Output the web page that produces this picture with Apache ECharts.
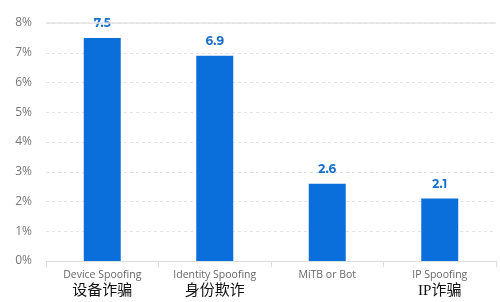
<!DOCTYPE html>
<html><head><meta charset="utf-8">
<script src="https://cdn.jsdelivr.net/npm/echarts@6/dist/echarts.min.js"></script>
<style>html,body{margin:0;padding:0;background:#fff}#c{width:500px;height:302px}</style>
</head><body><div id="c"></div>
<script>
const categoriesEn = ['Device Spoofing', 'Identity Spoofing', 'MiTB or Bot', 'IP Spoofing'];
const categoriesZh = ['设备诈骗', '身份欺诈', '', 'IP诈骗'];
const values = [7.5, 6.9, 2.6, 2.1];
const yTicks = [0, 1, 2, 3, 4, 5, 6, 7, 8];

const chart = echarts.init(document.getElementById('c'));
chart.setOption({
  animation: false,
  grid: { left: 46, right: 4, top: 23, bottom: 41 },
  xAxis: {
    type: 'category',
    data: categoriesEn,
    axisLine: { lineStyle: { color: '#dcdcdc' } },
    axisTick: { show: true, length: 6, lineStyle: { color: '#dcdcdc' } },
    axisLabel: {
      margin: 8, interval: 0, hideOverlap: false,
      formatter: (v, i) => '{en|' + categoriesEn[i] + '}\n{zh|' + (categoriesZh[i] || ' ') + '}',
      rich: {
        en: { fontFamily: 'Open Sans', fontSize: 10.5, color: '#666', lineHeight: 13 },
        zh: { fontFamily: '"Liberation Serif", "Noto Sans CJK SC"', fontSize: 15, color: '#111', lineHeight: 18 }
      }
    }
  },
  yAxis: {
    type: 'value', min: yTicks[0], max: yTicks[yTicks.length - 1], interval: 1,
    axisLine: { show: false }, axisTick: { show: false },
    axisLabel: { formatter: '{value}%', color: '#777', fontFamily: 'Open Sans', fontSize: 12, margin: 14 },
    splitLine: { lineStyle: { color: '#e3e3e3', type: [3, 3] } }
  },
  series: [{
    type: 'bar', data: values, barWidth: 37,
    itemStyle: { color: '#0a6fdb' },
    label: { show: true, position: 'top', distance: 8, color: '#1b70c8', fontWeight: 'bold', fontFamily: 'Montserrat, Open Sans', fontSize: 12 },
    markLine: {
      silent: true, symbol: 'none', label: { show: false },
      lineStyle: { color: '#e3e3e3', type: 'solid', width: 1.5 },
      data: [{ yAxis: yTicks[yTicks.length - 1] }]
    }
  }]
});
</script></body></html>
